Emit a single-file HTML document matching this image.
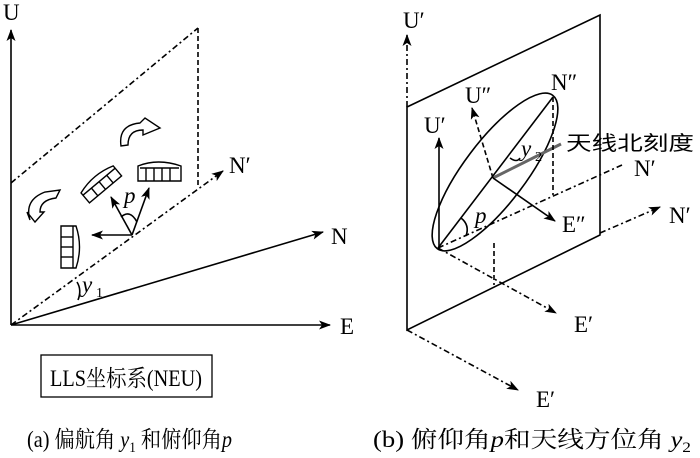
<!DOCTYPE html>
<html><head><meta charset="utf-8"><style>
body{margin:0;background:#fff}
svg{display:block}
</style></head><body>
<svg width="700" height="458" viewBox="0 0 700 458" xmlns="http://www.w3.org/2000/svg" font-family="'Liberation Serif','Noto Serif CJK SC',serif">
<defs>
<marker id="a" markerWidth="12" markerHeight="9" refX="11" refY="4.5" orient="auto" markerUnits="userSpaceOnUse"><path d="M0,0 L12,4.5 L0,9 L3,4.5z" fill="#000"/></marker>
</defs>
<g stroke="#000" stroke-width="1.6" fill="none">
<line x1="11" y1="325" x2="11" y2="30" marker-end="url(#a)"/>
<line x1="11" y1="325" x2="330" y2="325" marker-end="url(#a)"/>
<line x1="11" y1="325" x2="323" y2="232" marker-end="url(#a)"/>
<line x1="11" y1="325" x2="223" y2="171" stroke-dasharray="6,3,2,3" marker-end="url(#a)"/>
<line x1="11" y1="183" x2="198" y2="28" stroke-dasharray="6,3,2,3"/>
<line x1="198" y1="28" x2="198" y2="185" stroke-dasharray="5,3"/>
<line x1="132" y1="235" x2="92" y2="235" marker-end="url(#a)"/>
<line x1="132" y1="235" x2="111" y2="197" marker-end="url(#a)"/>
<line x1="132" y1="235" x2="149" y2="188" marker-end="url(#a)"/>
<path d="M121,217 Q130,209 137,222"/>
<path d="M77,282 Q82,290 78,300"/>
<g stroke-width="1.4">
<path d="M138,181 L138,166 Q158,158 181,166 L181,181 Z"/>
<line x1="140" y1="168" x2="179" y2="168"/>
<line x1="146" y1="168" x2="146" y2="181"/><line x1="154" y1="168" x2="154" y2="181"/><line x1="162" y1="168" x2="162" y2="181"/><line x1="170" y1="168" x2="170" y2="181"/>
<g transform="translate(101,184) rotate(-40)"><path d="M-21,7 L-21,-6 Q0,-13 21,-6 L21,7 Z"/><line x1="-21" y1="-3" x2="21" y2="-3"/><line x1="-10" y1="-3" x2="-10" y2="7"/><line x1="0" y1="-3" x2="0" y2="7"/><line x1="10" y1="-3" x2="10" y2="7"/></g>
<g transform="translate(70,247) rotate(90)"><path d="M-21,9 L-21,-6 Q0,-13 21,-6 L21,9 Z"/><line x1="-21" y1="-3" x2="21" y2="-3"/><line x1="-10" y1="-3" x2="-10" y2="9"/><line x1="0" y1="-3" x2="0" y2="9"/><line x1="10" y1="-3" x2="10" y2="9"/></g>
<path d="M121,146 Q118,125 140,123 L145,118 L160,128 L143,135 L143,130 Q128,130 128,145 Z"/>
<path d="M30,220 Q24,200 45,192 L60,190 L56,198 Q40,200 40,212 L44,212 L35,222 L27,212 Z"/>
</g>
<rect x="41" y="355" width="171" height="42" stroke-width="1.3"/>
<path d="M407,107 L600,15 L600,235 L407,330 Z"/>
<line x1="407" y1="107" x2="407" y2="35" stroke-dasharray="6,3,2,3" marker-end="url(#a)"/>
<ellipse cx="495" cy="172" rx="96" ry="31" transform="rotate(-53 495 172)"/>
<line x1="438" y1="248" x2="553" y2="97"/>
<line x1="493" y1="178" x2="561" y2="144" stroke="#666" stroke-width="3"/>
<line x1="493" y1="178" x2="472" y2="108" stroke-dasharray="5,3" marker-end="url(#a)"/>
<line x1="493" y1="178" x2="555" y2="221" marker-end="url(#a)"/>
<line x1="439" y1="248" x2="439" y2="138" marker-end="url(#a)"/>
<line x1="438" y1="248" x2="622" y2="165" stroke-dasharray="6,3,2,3"/>
<line x1="553" y1="97" x2="553" y2="195" stroke-dasharray="5,3"/>
<line x1="600" y1="233" x2="660" y2="207" stroke-dasharray="6,3,2,3" marker-end="url(#a)"/>
<line x1="438" y1="248" x2="556" y2="313" stroke-dasharray="6,3,2,3" marker-end="url(#a)"/>
<line x1="494" y1="243" x2="494" y2="285" stroke-dasharray="5,3"/>
<line x1="407" y1="330" x2="518" y2="390" stroke-dasharray="6,3,2,3" marker-end="url(#a)"/>
<path d="M461,218 Q470,225 466,236"/>
<path d="M510,158 Q517,163 520,158"/>
</g>
<g font-size="23" fill="#000">
<text x="3" y="20">U</text>
<text x="340" y="334">E</text>
<text x="331" y="244">N</text>
<text x="229" y="173">N′</text>
<text x="124" y="203" font-style="italic">p</text>
<text x="82" y="292" font-style="italic">y</text><text x="96" y="297" font-size="14">1</text>
<text x="403" y="28">U′</text>
<text x="551" y="90">N″</text>
<text x="465" y="103">U″</text>
<text x="424" y="133">U′</text>
<text x="521" y="156" font-style="italic">y</text><text x="535" y="161" font-size="14">2</text>
<text x="634" y="176">N′</text>
<text x="669" y="223">N′</text>
<text x="562" y="232">E″</text>
<text x="475" y="223" font-style="italic">p</text>
<text x="574" y="332">E′</text>
<text x="536" y="407">E′</text>
</g>
<text x="566" y="150" font-size="20" font-family="'Noto Sans CJK SC',sans-serif" fill="#000" textLength="128" lengthAdjust="spacingAndGlyphs">天线北刻度</text>
<text x="126" y="386" font-size="23" text-anchor="middle" textLength="152" lengthAdjust="spacingAndGlyphs" fill="#000">LLS坐标系(NEU)</text>
<text x="27" y="447" font-size="23" textLength="205" lengthAdjust="spacingAndGlyphs" fill="#000">(a) 偏航角 <tspan font-style="italic">y</tspan><tspan font-size="15" dy="5">1</tspan><tspan dy="-5"> 和俯仰角</tspan><tspan font-style="italic">p</tspan></text>
<text x="373" y="447" font-size="23" textLength="318" lengthAdjust="spacingAndGlyphs" fill="#000">(b) 俯仰角<tspan font-style="italic">p</tspan>和天线方位角 <tspan font-style="italic">y</tspan><tspan font-size="15" dy="5">2</tspan></text>
</svg>
</body></html>
